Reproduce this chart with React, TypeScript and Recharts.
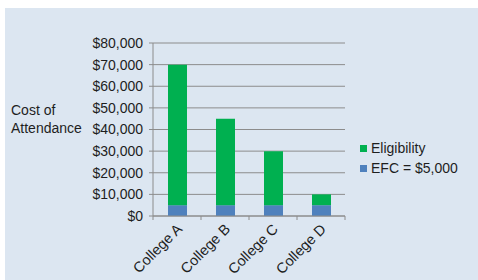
import { Bar, BarChart, CartesianGrid, Legend, XAxis, YAxis } from 'recharts'

const colleges = ['College A', 'College B', 'College C', 'College D']
const efcValues = [5000, 5000, 5000, 5000]
const eligibilityValues = [65000, 40000, 25000, 5000]
const yTicks = [0, 10000, 20000, 30000, 40000, 50000, 60000, 70000, 80000]

const data = colleges.map((college, i) => ({
  college,
  efc: efcValues[i],
  eligibility: eligibilityValues[i]
}))

const FONT = '"Liberation Sans", Arial, sans-serif'
const GRID = '#8c8c8c'
const TEXT = '#1e1e1e'
const GREEN = '#00b050'
const BLUE = '#4f81bd'

// plot is 192px wide, 4 categories
const HALF_BAND = 24

function CollegeTick(props: any) {
  const { x, y, payload, index } = props
  const tx = x + 6
  const ty = y + 14
  return (
    <g>
      <line x1={x - HALF_BAND} x2={x - HALF_BAND} y1={y} y2={y + 4} stroke={GRID} />
      {index === colleges.length - 1 && (
        <line x1={x + HALF_BAND} x2={x + HALF_BAND} y1={y} y2={y + 4} stroke={GRID} />
      )}
      <text
        x={tx}
        y={ty}
        textAnchor="end"
        fontSize={14.5}
        fontFamily={FONT}
        fill={TEXT}
        transform={`rotate(-45, ${tx}, ${ty})`}
      >
        {payload.value}
      </text>
    </g>
  )
}

function LegendBox() {
  const items = [
    { label: 'Eligibility', color: GREEN },
    { label: 'EFC = $5,000', color: BLUE }
  ]
  return (
    <div style={{ fontFamily: FONT, fontSize: 14, color: TEXT }}>
      {items.map((it) => (
        <div key={it.label} style={{ display: 'flex', alignItems: 'center', height: 20 }}>
          <span style={{ width: 7, height: 7, background: it.color, marginRight: 4 }} />
          {it.label}
        </div>
      ))}
    </div>
  )
}

export default function App() {
  return (
    <div style={{ position: 'absolute', left: 0, top: 0, width: 478, height: 280, background: '#fff' }}>
      <div style={{ position: 'absolute', left: 5, top: 8, width: 473, height: 272, background: '#dce6f1' }}>
        <BarChart
          width={473}
          height={272}
          data={data}
          margin={{ top: 35, right: 133, bottom: 4, left: 0 }}
        >
          <CartesianGrid vertical={false} stroke={GRID} />
          <XAxis
            dataKey="college"
            height={60}
            interval={0}
            tickLine={false}
            tickSize={0}
            tickMargin={0}
            axisLine={{ stroke: GRID }}
            tick={<CollegeTick />}
          />
          <YAxis
            width={148}
            domain={[0, 80000]}
            ticks={yTicks}
            interval={0}
            tickSize={4}
            tickMargin={6}
            axisLine={{ stroke: GRID }}
            tickLine={{ stroke: GRID }}
            tick={{ fontSize: 14, fontFamily: FONT, fill: TEXT }}
            tickFormatter={(v: number) => `$${v.toLocaleString('en-US')}`}
            label={{
              content: () => (
                <text fontSize={14} fontFamily={FONT} fill={TEXT}>
                  <tspan x={6} y={107}>Cost of</tspan>
                  <tspan x={6} y={125}>Attendance</tspan>
                </text>
              )
            }}
          />
          <Legend
            layout="vertical"
            align="center"
            verticalAlign="middle"
            content={<LegendBox />}
            wrapperStyle={{ left: 355, top: 130, width: 118 }}
          />
          <Bar dataKey="efc" stackId="a" fill={BLUE} barSize={19} isAnimationActive={false} />
          <Bar dataKey="eligibility" stackId="a" fill={GREEN} barSize={19} isAnimationActive={false} />
        </BarChart>
      </div>
    </div>
  )
}
